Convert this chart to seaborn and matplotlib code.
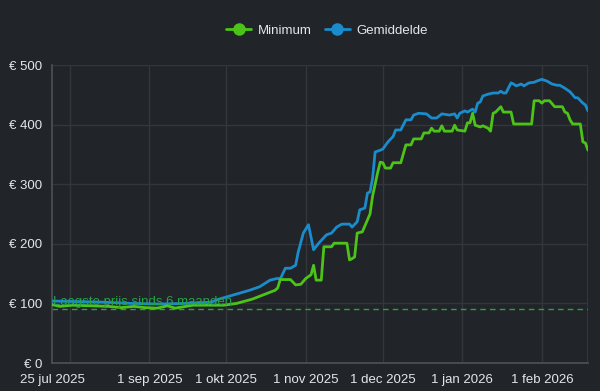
import pandas as pd
import numpy as np
import matplotlib
matplotlib.use("Agg")
import matplotlib.pyplot as plt
import matplotlib.dates as mdates
from matplotlib.lines import Line2D
import seaborn as sns

# ---------------- data ----------------
gem_dates = ["2025-07-25","2025-08-05","2025-08-15","2025-08-25","2025-09-05","2025-09-15","2025-09-25",
             "2025-09-28","2025-10-02","2025-10-06","2025-10-10","2025-10-14","2025-10-18","2025-10-21",
             "2025-10-22","2025-10-24","2025-10-26","2025-10-28","2025-10-29","2025-10-31","2025-11-02",
             "2025-11-04","2025-11-06","2025-11-09","2025-11-11","2025-11-13","2025-11-15","2025-11-18",
             "2025-11-19","2025-11-21","2025-11-22","2025-11-24","2025-11-25","2025-11-26","2025-11-27",
             "2025-11-28","2025-11-30","2025-12-01","2025-12-03","2025-12-05","2025-12-06","2025-12-08",
             "2025-12-10","2025-12-12","2025-12-13","2025-12-15","2025-12-18","2025-12-20","2025-12-22",
             "2025-12-24","2025-12-27","2025-12-29","2025-12-30","2025-12-31","2026-01-02","2026-01-03",
             "2026-01-05","2026-01-06","2026-01-07","2026-01-08","2026-01-09","2026-01-11","2026-01-13",
             "2026-01-15","2026-01-16","2026-01-17","2026-01-18","2026-01-20","2026-01-21","2026-01-22",
             "2026-01-24","2026-01-25","2026-01-27","2026-01-29","2026-01-30","2026-02-01","2026-02-03",
             "2026-02-05","2026-02-07","2026-02-08","2026-02-10","2026-02-12","2026-02-14","2026-02-15",
             "2026-02-17","2026-02-18","2026-02-19"]
gem_values = [104,103,102,100,99,100,102,
              107,112,117,122,128,139,142,
              141,159,159,164,186,218,232,
              190,201,215,218,228,233,233,
              228,237,257,260,285,287,310,
              354,357,359,371,380,391,391,
              408,408,416,419,418,411,411,
              418,416,418,411,419,423,421,
              426,421,436,438,448,451,453,
              453,456,453,453,470,468,465,
              468,465,470,471,473,476,473,
              468,466,466,461,455,445,445,
              436,433,423]

min_dates = ["2025-07-25","2025-07-28","2025-08-02","2025-08-09","2025-08-16","2025-08-21","2025-08-26",
             "2025-08-30","2025-09-04","2025-09-08","2025-09-11","2025-09-18","2025-09-25","2025-09-30",
             "2025-10-05","2025-10-11","2025-10-14","2025-10-17","2025-10-20","2025-10-21","2025-10-22",
             "2025-10-26","2025-10-28","2025-10-30","2025-11-01","2025-11-03","2025-11-04","2025-11-05",
             "2025-11-07","2025-11-08","2025-11-11","2025-11-12","2025-11-17","2025-11-18","2025-11-19",
             "2025-11-20","2025-11-21","2025-11-23","2025-11-26","2025-11-27","2025-11-28","2025-11-29",
             "2025-11-30","2025-12-01","2025-12-02","2025-12-04","2025-12-05","2025-12-08","2025-12-10",
             "2025-12-12","2025-12-13","2025-12-16","2025-12-17","2025-12-19","2025-12-20","2025-12-21",
             "2025-12-23","2025-12-24","2025-12-25","2025-12-28","2025-12-29","2025-12-30","2026-01-02",
             "2026-01-03","2026-01-04","2026-01-05","2026-01-06","2026-01-08","2026-01-09","2026-01-11",
             "2026-01-12","2026-01-13","2026-01-14","2026-01-16","2026-01-17","2026-01-20","2026-01-21",
             "2026-01-28","2026-01-29","2026-01-31","2026-02-01","2026-02-02","2026-02-04","2026-02-06",
             "2026-02-09","2026-02-10","2026-02-11","2026-02-12","2026-02-13","2026-02-16","2026-02-17",
             "2026-02-18","2026-02-19"]
min_values = [98,95,97,96,95,93,95,
              93,92,96,92,97,97,97,
              100,107,112,117,122,126,140,
              140,131,132,142,148,164,139,
              139,195,195,201,201,173,175,
              178,218,220,250,280,300,320,
              337,336,327,327,336,336,366,
              366,376,376,386,386,394,389,
              389,398,389,389,399,391,389,
              403,403,419,399,396,398,394,
              389,419,421,430,421,421,401,
              401,440,440,436,440,440,430,
              430,421,419,408,401,401,371,
              369,357]

lowest_price = 91
annotation_text = "Laagste prijs sinds 6 maanden"
series_names = ["Minimum", "Gemiddelde"]
y_ticks = [0, 100, 200, 300, 400, 500]
y_tick_labels = ["€ 0", "€ 100", "€ 200", "€ 300", "€ 400", "€ 500"]
x_tick_dates = ["2025-07-25", "2025-09-01", "2025-10-01", "2025-11-01", "2025-12-01", "2026-01-01", "2026-02-01"]
x_tick_labels = ["25 jul 2025", "1 sep 2025", "1 okt 2025", "1 nov 2025", "1 dec 2025", "1 jan 2026", "1 feb 2026"]
grid_dates = ["2025-08-01", "2025-09-01", "2025-10-01", "2025-11-01", "2025-12-01", "2026-01-01", "2026-02-01"]

# ---------------- style ----------------
BG = "#212429"
GRID = "#33373c"
SPINE = "#4d5258"
TXT = "#e4e6e8"
GREEN = "#4cc417"
BLUE = "#1a8ccc"
ANN = "#27a245"

sns.set_theme(style="dark")
plt.rcParams["font.family"] = ["Liberation Sans", "DejaVu Sans"]

df = pd.concat([
    pd.DataFrame({"datum": pd.to_datetime(min_dates), "prijs": min_values, "reeks": series_names[0]}),
    pd.DataFrame({"datum": pd.to_datetime(gem_dates), "prijs": gem_values, "reeks": series_names[1]}),
])

fig = plt.figure(figsize=(6.0, 3.91), dpi=100, facecolor=BG)
ax = fig.add_axes([52/600, 1-363/391, (588-52)/600, (363-65)/391])
ax.set_facecolor(BG)

sns.lineplot(data=df, x="datum", y="prijs", hue="reeks", palette={series_names[0]: GREEN, series_names[1]: BLUE},
             hue_order=[series_names[1], series_names[0]], linewidth=2.0, ax=ax, legend=False, zorder=3)

xmin = pd.to_datetime(gem_dates[0])
xmax = pd.to_datetime(gem_dates[-1])
ax.set_xlim(xmin, xmax)
ax.set_ylim(0, 500)

# grid
for g in grid_dates:
    ax.axvline(pd.to_datetime(g), color=GRID, lw=1, zorder=0)
ax.axvline(xmax, color=GRID, lw=1.5, zorder=0)
for yv in y_ticks[1:]:
    ax.axhline(yv, color=GRID, lw=1, zorder=0)

ax.set_yticks(y_ticks)
ax.set_yticklabels(y_tick_labels)
ax.set_xticks(pd.to_datetime(x_tick_dates))
ax.set_xticklabels(x_tick_labels)
ax.tick_params(axis="both", colors=SPINE, labelcolor=TXT, labelsize=9.5, length=5, width=1, direction="out")
ax.tick_params(axis="x", pad=3)
ax.tick_params(axis="y", pad=2)
ax.set_xlabel("")
ax.set_ylabel("")
ax.grid(False)
for s in ["top", "right"]:
    ax.spines[s].set_visible(False)
for s in ["left", "bottom"]:
    ax.spines[s].set_visible(True)
    ax.spines[s].set_color(SPINE)
    ax.spines[s].set_linewidth(1.2)

# lowest price annotation
ax.axhline(lowest_price, color=ANN, lw=1, linestyle=(0, (4, 3)), zorder=2)
ax.text(xmin + pd.Timedelta(days=0.5), lowest_price + 1, annotation_text, color=ANN, fontsize=9.5,
        va="bottom", ha="left", zorder=4)

# legend
handles = [Line2D([0], [0], color=GREEN, lw=2, marker="o", markersize=8),
           Line2D([0], [0], color=BLUE, lw=2, marker="o", markersize=8)]
leg = fig.legend(handles, series_names, loc="center", bbox_to_anchor=(0.545, 1-31/391), ncol=2,
                 frameon=False, fontsize=9.5, handlelength=1.9, columnspacing=1.0, handletextpad=0.5)
for t in leg.get_texts():
    t.set_color(TXT)

fig.savefig("out.png", dpi=100, facecolor=BG)
